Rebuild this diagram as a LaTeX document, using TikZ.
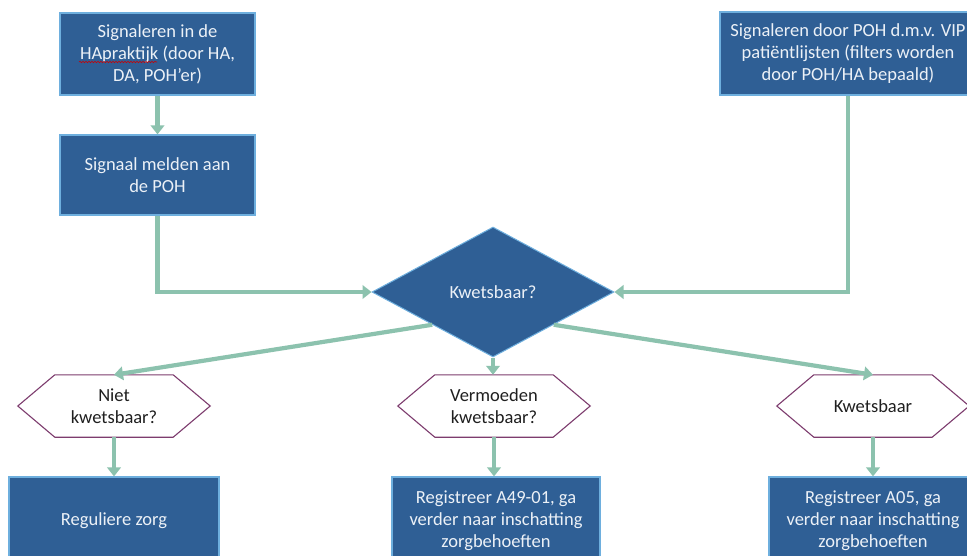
\documentclass[tikz,border=0pt]{standalone}
\usepackage{fontspec}
\setmainfont{Carlito}
\usetikzlibrary{shapes.geometric,arrows.meta,calc,decorations.pathmorphing}
\definecolor{boxblue}{RGB}{47,95,149}
\definecolor{boxedge}{RGB}{110,175,222}
\definecolor{arrowgreen}{RGB}{140,194,174}
\definecolor{hexedge}{RGB}{125,60,110}
\definecolor{boxtext}{RGB}{236,241,247}
\begin{document}
\begin{tikzpicture}[x=1pt,y=-1pt,
  txt/.style={font=\fontsize{18.5}{22}\selectfont},
  bluebox/.style={txt,draw=boxedge,line width=1.2pt,fill=boxblue,text=boxtext,align=center,inner sep=0pt},
  hexnode/.style={txt,minimum width=118pt,minimum height=62pt,inner sep=0pt,align=center,text=black!88},
  hexline/.style={draw=hexedge,line width=1.1pt},
  flow/.style={draw=arrowgreen,line width=4.2pt,-{Triangle[width=13.5pt,length=9pt]}}
]
\useasboundingbox (0,0) rectangle (967,555);
\fill[white] (0,0) rectangle (967,555);

% top boxes
\node[bluebox,minimum width=195pt,minimum height=82pt] (b1) at (157.5,54) {Signaleren in de\\HApraktijk (door HA,\\DA, POH’er)};
\node[bluebox,minimum width=195pt,minimum height=80pt] (b2) at (157.5,175) {Signaal melden aan\\de POH};
\node[bluebox,minimum width=256pt,minimum height=83pt] (b3) at (848,53.5) {Signaleren door POH d.m.v. VIP\\patiëntlijsten (filters worden\\door POH/HA bepaald)};
% spell-check mark under "HApraktijk"
\coordinate (sq1) at (79,62);
\coordinate (sq2) at (157,62);
\draw[red!80!black,line width=0.6pt,decorate,decoration={snake,amplitude=0.7pt,segment length=3pt}] (sq1) -- (sq2);

% decision
\node[diamond,txt,fill=boxblue,draw=boxedge,line width=1pt,minimum width=242pt,minimum height=130pt,inner sep=0pt,text=boxtext] (d) at (493,292) {Kwetsbaar?};

% hexagons
\node[hexnode] (h1) at (114,406) {Niet\\kwetsbaar?};
\node[hexnode] (h2) at (494,406) {Vermoeden\\kwetsbaar?};
\node[hexnode] (h3) at (873,406) {Kwetsbaar};
\foreach \h in {h1,h2,h3}
  \draw[hexline] ([xshift=-37pt]\h.west) -- (\h.north west) -- (\h.north east) -- ([xshift=37pt]\h.east) -- (\h.south east) -- (\h.south west) -- cycle;

% bottom boxes
\node[bluebox,minimum width=210pt,minimum height=88pt] (c1) at (114,521) {Reguliere zorg};
\node[bluebox,minimum width=208pt,minimum height=88pt] (c2) at (496,521) {Registreer A49-01, ga\\verder naar inschatting\\zorgbehoeften};
\node[bluebox,minimum width=208pt,minimum height=88pt] (c3) at (873,521) {Registreer A05, ga\\verder naar inschatting\\zorgbehoeften};

% connectors
\draw[flow] (b1.south) -- (b2.north);
\draw[flow] (b2.south) |- (d.west);
\draw[flow] (b3.south) |- (d.east);
\draw[flow] (d.south west) -- (h1.north);
\draw[flow] (d.south) -- (d.south |- h2.north);
\draw[flow] (d.south east) -- (h3.north);
\draw[flow] (h1.south) -- (c1.north);
\draw[flow] (h2.south) -- (h2.south |- c2.north);
\draw[flow] (h3.south) -- (c3.north);
\end{tikzpicture}
\end{document}
